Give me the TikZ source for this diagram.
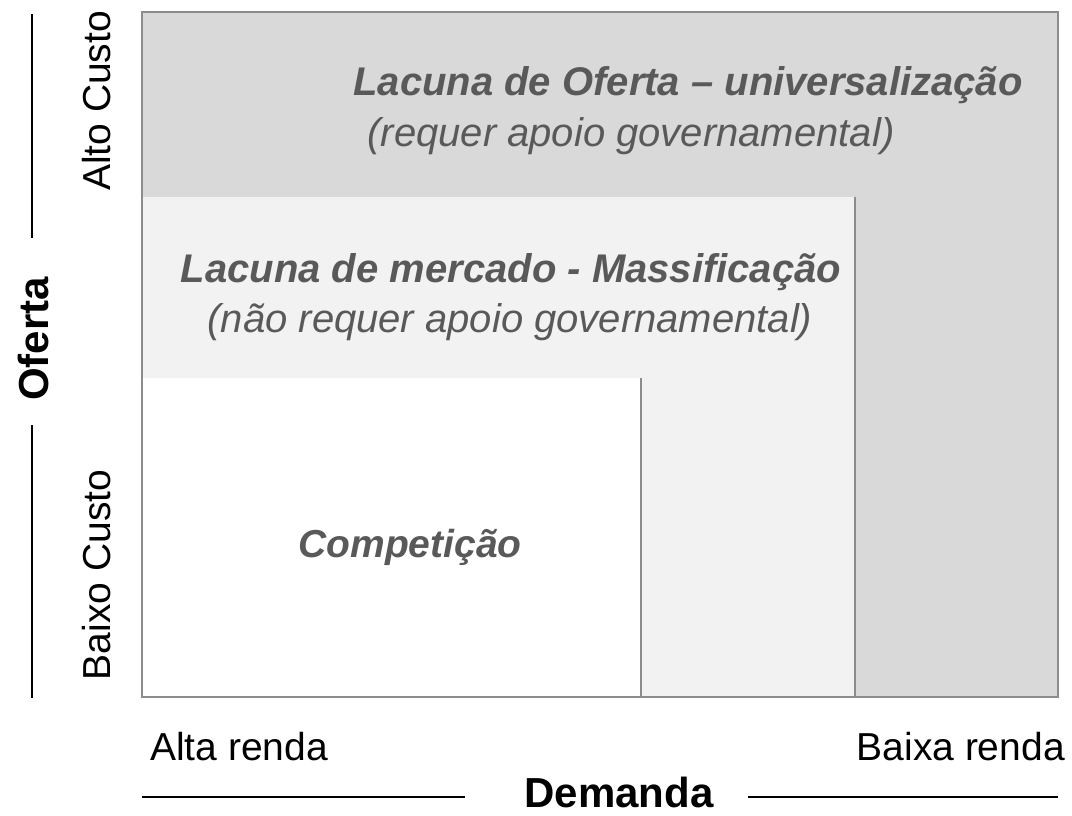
\documentclass[tikz,border=0pt]{standalone}
\usepackage{fontspec}
\setmainfont{Liberation Sans}
\definecolor{outerGray}{HTML}{D9D9D9}
\definecolor{innerGray}{HTML}{F2F2F2}
\definecolor{edgeGray}{HTML}{8C8C8C}
\definecolor{textGray}{HTML}{595959}
\tikzset{
    gaptext/.style={font=\fontsize{40}{46}\selectfont\itshape, text=textGray, inner sep=0pt, anchor=base},
    gaptitle/.style={gaptext, font=\fontsize{40}{46}\selectfont\bfseries\itshape},
    axistext/.style={font=\fontsize{39}{44}\selectfont, inner sep=0pt},
    axistitle/.style={font=\fontsize{42}{46}\selectfont\bfseries, inner sep=0pt, text depth=0pt},
    axisline/.style={line width=2.5pt}
}
\begin{document}
\begin{tikzpicture}[x=1pt,y=-1pt]
        \def\xl{142}
        \def\xm{641}
        \def\xn{855}
        \def\xr{1058}
        \def\yt{12}
        \def\yu{197}
        \def\yv{378}
        \def\yb{697}
        \useasboundingbox (0,0) rectangle (1072,815);

        % nested regions
        \foreach \col/\xx/\yy in {outerGray/\xr/\yt,innerGray/\xn/\yu,white/\xm/\yv} {
                \fill [\col] (\xl,\yy) rectangle (\xx,\yb);
            }
        \draw [edgeGray,line width=1.5pt] (\xn,\yu) -- (\xn,\yb) (\xm,\yv) -- (\xm,\yb);
        \draw [edgeGray,line width=2pt] (\xl,\yt) rectangle (\xr,\yb);

        \node [gaptitle] (ofertaGap) at (688,95) {Lacuna de Oferta – universalização};
        \node [gaptext] (ofertaNote) at (631,146) {(requer apoio governamental)};
        \node [gaptitle] (mercadoGap) at (511,282) {Lacuna de mercado - Massificação};
        \node [gaptext] (mercadoNote) at (510,332) {(não requer apoio governamental)};
        \node [gaptitle,font=\fontsize{39}{44}\selectfont\bfseries\itshape] (competicao) at (410,557) {Competição};

        % supply axis
        \node [axistext,rotate=90,anchor=base] (altoCusto) at (110,101) {Alto Custo};
        \node [axistext,rotate=90,anchor=base] (baixoCusto) at (110,575) {Baixo Custo};
        \node [axistitle,rotate=90,anchor=base] (oferta) at (48,339) {Oferta};
        \coordinate (ofertaTop) at (32,14);
        \coordinate (ofertaUpper) at (32,238);
        \coordinate (ofertaLower) at (32,425);
        \coordinate (ofertaBottom) at (32,698);
        \draw [axisline] (ofertaTop) -- (ofertaUpper);
        \draw [axisline] (ofertaLower) -- (ofertaBottom);

        % demand axis
        \node [axistext,anchor=base west] (altaRenda) at (150,760) {Alta renda};
        \node [axistext,anchor=base east] (baixaRenda) at (1065,760) {Baixa renda};
        \node [axistitle,anchor=base] (demanda) at (619,807) {Demanda};
        \coordinate (demandaLeft) at (\xl,797);
        \coordinate (demandaMidLeft) at (465,797);
        \coordinate (demandaMidRight) at (748,797);
        \coordinate (demandaRight) at (\xr,797);
        \draw [axisline] (demandaLeft) -- (demandaMidLeft);
        \draw [axisline] (demandaMidRight) -- (demandaRight);
    \end{tikzpicture}
\end{document}
